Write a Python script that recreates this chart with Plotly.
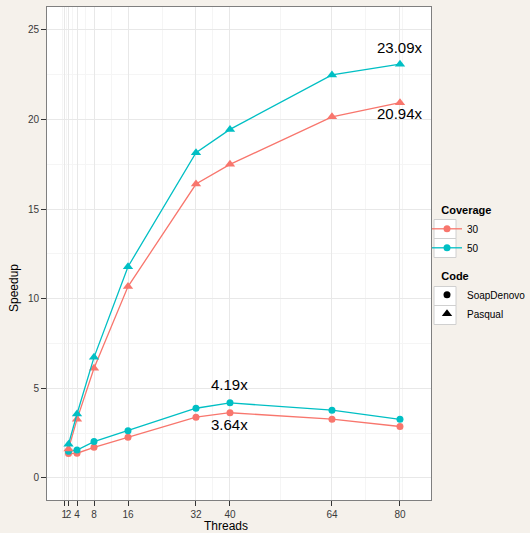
import plotly.graph_objects as go

# ---- data ----
threads = [2, 4, 8, 16, 32, 40, 64, 80]
soap_30 = [1.36, 1.38, 1.71, 2.27, 3.39, 3.64, 3.28, 2.87]
soap_50 = [1.49, 1.56, 2.03, 2.64, 3.89, 4.19, 3.78, 3.27]
pasq_30 = [1.62, 3.27, 6.12, 10.68, 16.40, 17.50, 20.15, 20.94]
pasq_50 = [1.88, 3.57, 6.73, 11.79, 18.15, 19.45, 22.49, 23.09]
x_ticks = [1, 2, 4, 8, 16, 32, 40, 64, 80]
y_ticks = [0, 5, 10, 15, 20, 25]
coverages = ["30", "50"]
codes = ["SoapDenovo", "Pasqual"]

RED = "#F8766D"
BLUE = "#00BFC4"
FONT = "Liberation Sans, Arial, sans-serif"

# plot-area geometry in pixels
L, R, T, B, W, H = 47, 431, 7, 500, 530, 533
def px(xp): return (xp - L) / (R - L)
def py(yp): return (B - yp) / (B - T)

fig = go.Figure()

series = [
    (soap_30, RED, "circle", 7),
    (soap_50, BLUE, "circle", 7),
    (pasq_30, RED, "triangle-up", 9),
    (pasq_50, BLUE, "triangle-up", 9),
]
for ys, col, sym, sz in series:
    fig.add_trace(go.Scatter(
        x=threads, y=ys, mode="lines+markers",
        line=dict(color=col, width=1.3),
        marker=dict(color=col, symbol=sym, size=sz),
        showlegend=False, hoverinfo="skip"))

# legend entries (Coverage)
for cov, col in zip(coverages, [RED, BLUE]):
    fig.add_trace(go.Scatter(
        x=[None], y=[None], mode="lines+markers", name=cov,
        line=dict(color=col, width=1.3),
        marker=dict(color=col, symbol="circle", size=7),
        legend="legend"))
# legend entries (Code)
for code, sym, sz in zip(codes, ["circle", "triangle-up"], [7, 9]):
    fig.add_trace(go.Scatter(
        x=[None], y=[None], mode="markers", name=code,
        marker=dict(color="black", symbol=sym, size=sz),
        legend="legend2"))

# value labels
last = len(threads) - 1
i40 = threads.index(40)
labels = [
    (threads[last], pasq_50[last], pasq_50[last] + 0.95),
    (threads[last], pasq_30[last], pasq_30[last] - 0.6),
    (threads[i40], soap_50[i40], soap_50[i40] + 1.0),
    (threads[i40], soap_30[i40], soap_30[i40] - 0.68),
]
for xv, val, yv in labels:
    fig.add_annotation(x=xv, y=yv, text=f"{val:.2f}x", showarrow=False,
                       xanchor="center", yanchor="middle",
                       font=dict(size=15, color="black", family=FONT))

# axis titles
fig.add_annotation(xref="paper", yref="paper", x=px(226), y=py(526),
                   text="Threads", showarrow=False, xanchor="center", yanchor="middle",
                   font=dict(size=12, color="black", family=FONT))
fig.add_annotation(xref="paper", yref="paper", x=px(14), y=py(288),
                   text="Speedup", textangle=-90, showarrow=False,
                   xanchor="center", yanchor="middle",
                   font=dict(size=12, color="black", family=FONT))

# legend key boxes
for yc in [229, 248, 296, 315]:
    fig.add_shape(type="rect", xref="paper", yref="paper",
                  x0=px(434), x1=px(456), y0=py(yc - 9.5), y1=py(yc + 9.5),
                  line=dict(color="#D0D0D0", width=1), fillcolor="white", layer="below")

x_minor = [0.5, 1.5, 3, 6, 12, 24, 36, 52, 72, 80.5]
y_minor = [2.5, 7.5, 12.5, 17.5, 22.5]

axis_common = dict(
    showline=True, mirror=True, linecolor="#7F7F7F", linewidth=1,
    ticks="outside", ticklen=5, tickcolor="#333333", tickwidth=1,
    gridcolor="#E8E8E8", gridwidth=1, zeroline=False,
    tickfont=dict(size=10, color="#3A3A3A", family=FONT),
)

fig.update_xaxes(range=[-3.06, 87.3], tickvals=x_ticks, ticktext=[str(t) for t in x_ticks],
                 tickangle=0, minor=dict(tickvals=x_minor, showgrid=True, gridcolor="#F5F5F5", ticks=""),
                 **axis_common)
fig.update_yaxes(range=[-1.23, 26.28], tickvals=y_ticks, ticktext=[str(t) for t in y_ticks],
                 minor=dict(tickvals=y_minor, showgrid=True, gridcolor="#F5F5F5", ticks=""),
                 **axis_common)

legend_common = dict(
    font=dict(size=10, color="black", family=FONT),
    bgcolor="rgba(0,0,0,0)", itemwidth=30, tracegroupgap=0,
    xanchor="left", yanchor="top",
)
PAD = "\u00a0" * 4
fig.update_layout(
    width=W, height=H,
    margin=dict(l=L, r=W - R, t=T, b=H - B, autoexpand=False),
    paper_bgcolor="#F5F1EB", plot_bgcolor="white",
    font=dict(family=FONT),
    legend=dict(x=px(427), y=py(200),
                title=dict(text=PAD + "<b>Coverage</b>", font=dict(size=11, color="black", family=FONT)),
                **legend_common),
    legend2=dict(x=px(427), y=py(266),
                 title=dict(text=PAD + "<b>Code</b>", font=dict(size=11, color="black", family=FONT)),
                 **legend_common),
)

fig.write_html("out.html", config={"displayModeBar": False},
               post_script="document.body.style.margin='0';")
